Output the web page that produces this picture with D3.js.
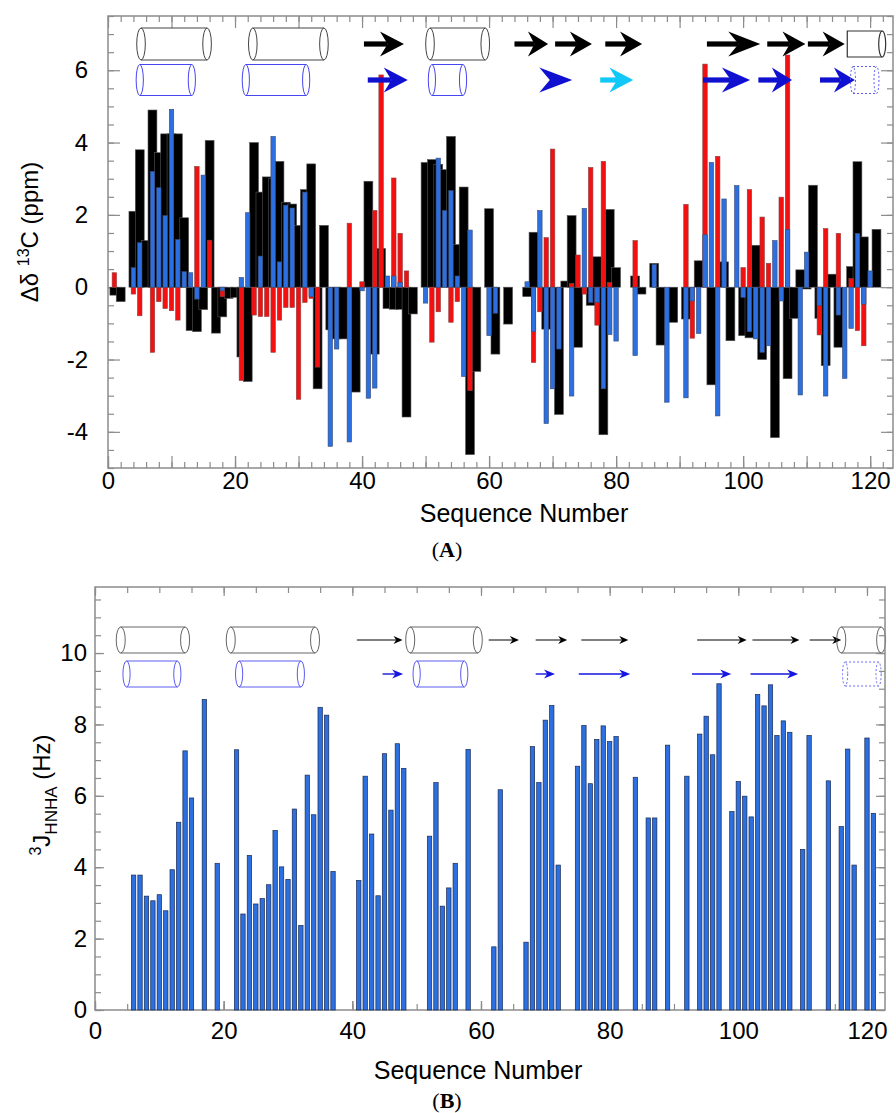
<!DOCTYPE html>
<html><head><meta charset="utf-8">
<script src="https://cdn.jsdelivr.net/npm/d3@7"></script>
<style>body{margin:0;background:#fff} svg{display:block;font-family:"Liberation Sans",Arial,sans-serif}</style>
</head><body>
<svg id="c" width="896" height="1113"></svg>
<script>
// ---------- Panel A data: [residue, Δδ13C (ppm)] ----------
const blackShifts = [[1,-0.22],[2,-0.40],[4,2.10],[5,3.80],[6,1.29],[7,4.90],[8,3.72],[9,4.24],[10,4.24],[11,4.24],[12,1.92],[13,-1.20],[14,-1.23],[15,-0.62],[16,4.06],[17,-1.27],[18,-0.82],[19,-0.31],[20,-0.28],[21,-1.93],[22,-2.61],[23,4.00],[24,2.63],[25,3.05],[26,3.00],[27,3.48],[28,2.35],[29,2.30],[30,1.71],[31,2.70],[32,3.41],[33,-2.81],[34,1.71],[35,-1.18],[36,-1.43],[37,-1.43],[39,-2.90],[41,2.93],[42,-1.85],[43,1.07],[44,-0.59],[45,-0.61],[46,-0.61],[47,-3.59],[48,-0.74],[50,3.45],[51,3.53],[52,3.40],[53,3.25],[54,4.17],[55,1.18],[56,2.77],[57,-4.63],[58,-2.33],[60,2.17],[61,-1.85],[63,-1.02],[66,-0.26],[67,1.52],[69,-1.16],[71,-3.52],[72,0.17],[73,1.98],[74,-1.66],[76,-0.50],[77,0.84],[78,-4.08],[79,2.15],[80,0.54],[83,0.31],[84,-0.19],[86,0.66],[87,-1.60],[89,-0.97],[91,-0.88],[93,0.73],[95,-2.70],[97,0.70],[98,-1.48],[100,-1.34],[101,-1.40],[102,1.16],[103,-2.00],[105,-4.16],[107,-2.53],[108,-0.86],[109,0.48],[110,-0.05],[111,2.82],[112,-0.86],[113,-2.17],[114,0.36],[115,-1.66],[117,0.57],[118,3.47],[119,1.39],[121,1.60]];
const blueShifts = [[4,0.54],[5,1.23],[7,3.20],[8,2.75],[9,1.98],[10,4.92],[11,1.32],[12,0.43],[13,0.40],[14,-0.33],[15,3.10],[18,-0.10],[21,0.27],[22,2.06],[24,0.86],[26,4.17],[27,0.70],[28,2.27],[29,2.19],[31,2.63],[32,-0.26],[35,-4.40],[36,-1.71],[38,-4.28],[40,-0.10],[41,-3.07],[42,-2.79],[44,0.31],[45,0.31],[46,0.13],[50,-0.44],[52,3.57],[53,2.12],[54,2.67],[55,0.31],[56,-2.47],[57,1.58],[60,-1.34],[61,-0.72],[66,0.15],[67,-1.23],[68,2.12],[69,-3.77],[70,-2.81],[71,-1.71],[73,-3.01],[75,2.18],[76,-0.42],[77,-0.42],[78,-2.81],[79,-1.31],[80,-1.49],[83,-1.89],[86,0.63],[88,-3.18],[91,-3.06],[92,-0.38],[93,-1.28],[94,1.45],[95,3.45],[96,-3.56],[97,2.44],[99,2.81],[100,-0.28],[101,-1.23],[102,-1.43],[103,-1.80],[104,-1.62],[105,1.29],[106,-0.38],[107,1.60],[109,-2.98],[110,0.97],[112,-0.51],[113,-3.01],[115,-0.77],[116,-2.52],[117,-1.14],[118,1.49],[119,-0.47],[120,0.45]];
const redShifts = [[1,0.40],[4,-0.19],[5,-0.79],[7,-1.80],[8,-0.40],[9,-0.59],[10,-0.65],[11,-0.91],[14,3.34],[16,1.30],[18,-0.26],[21,-2.58],[23,-0.77],[24,-0.81],[25,-0.81],[26,-1.80],[27,-0.91],[28,-0.56],[29,-0.56],[30,-3.10],[31,-0.42],[32,-0.31],[33,-2.21],[38,1.77],[40,0.15],[42,2.12],[43,5.87],[45,3.02],[46,1.49],[47,0.45],[51,-1.52],[52,-0.68],[54,-0.97],[55,-0.40],[57,-2.86],[67,-2.08],[68,-0.68],[69,1.37],[70,3.82],[73,0.10],[74,0.89],[75,-0.19],[76,3.31],[77,-1.05],[78,3.48],[79,0.13],[83,1.29],[91,2.29],[92,-1.41],[94,6.17],[96,3.62],[100,0.54],[101,2.70],[103,1.94],[104,0.66],[106,2.49],[107,6.42],[112,-1.32],[113,1.62],[115,1.49],[117,0.24],[118,-1.20],[119,-1.62]];

// ---------- Panel B data ----------
const jRes = [6,7,8,9,10,11,12,13,14,15,17,19,22,23,24,25,26,27,28,29,30,31,32,33,34,35,36,37,41,42,43,44,45,46,47,48,52,53,54,55,56,58,62,63,67,68,69,70,71,72,75,76,77,78,79,80,81,84,86,87,89,92,94,95,96,97,99,100,101,102,103,104,105,106,107,108,110,111,114,116,117,118,120,121];
const jVal = [3.78,3.78,3.19,3.06,3.23,2.78,3.93,5.26,7.26,5.94,8.70,4.11,7.29,2.69,4.33,2.97,3.12,3.51,5.03,4.01,3.66,5.63,2.37,6.58,5.47,8.48,8.26,3.88,3.63,6.55,4.93,3.20,7.18,5.60,7.46,6.77,4.87,6.37,2.91,3.42,4.11,7.30,1.77,6.17,1.90,7.38,6.37,8.12,8.53,4.06,6.83,7.97,6.34,7.58,7.96,7.52,7.66,6.52,5.38,5.38,7.42,6.55,7.73,8.23,7.15,9.14,5.56,6.40,5.99,5.41,8.84,8.52,9.11,7.69,8.10,7.78,4.50,7.69,6.42,5.14,7.31,4.06,7.62,5.51];

// ---------- Secondary structure (residue ranges) ----------
const ssA_top = [["cyl",5.2,15.6],["cyl",22.8,34.0],["arrow",40.3,46.6],["cyl",50.7,59.4],["arrow",64.0,69.3],["arrow",70.4,76.2],["arrow",78.3,84.1],["arrow",94.3,102.7],["arrow",103.8,109.8],["arrow",110.2,116.0],["box",116.4,121.9]];
const ssA_bot = [["cyl",5.0,13.2],["cyl",21.7,31.2],["arrow",40.9,47.2],["cyl",51.0,55.9],["head",67.9,73.1],["cyanarrow",77.5,82.7],["arrow",93.7,101.1],["arrow",102.4,107.7],["arrow",112.1,117.6],["dcyl",117.3,121.0]];
const ssB_top = [["cyl",4.0,14.0],["cyl",21.1,34.2],["arrow",40.7,47.8],["cyl",49.0,59.5],["arrow",61.2,65.9],["arrow",68.5,73.4],["arrow",75.6,82.9],["arrow",93.6,101.3],["arrow",102.2,109.5],["arrow",111.1,116.0],["cyl",116.0,122.2]];
const ssB_bot = [["cyl",4.9,12.8],["cyl",22.4,32.0],["arrow",44.7,47.9],["cyl",50.0,57.4],["arrow",68.5,71.5],["arrow",75.2,83.2],["arrow",92.8,98.9],["arrow",101.9,109.3],["dcyl",116.6,121.8]];

const xTicksLabel = [0,20,40,60,80,100,120];

const svg = d3.select("#c");
const BLUE = "#2b6fe0", RED = "#f41010", FRAME = "#8c8c8c";
const fmtTick = d => String(d);   // plain hyphen-minus as in the original

// ===== Panel A =====
const xA = d3.scaleLinear().domain([0,123.6]).range([108,893]);
const yA = d3.scaleLinear().domain([-5,7.5]).range([468,16]);
const gA = svg.append("g");

function drawBars(g, data, x, y, w, fill, stroke){
  g.selectAll(null).data(data).join("rect")
   .attr("x", d => x(d[0]) - (x(w)-x(0))/2)
   .attr("width", x(w)-x(0))
   .attr("y", d => y(Math.max(0,d[1])))
   .attr("height", d => Math.abs(y(d[1]) - y(0)))
   .attr("fill", fill).attr("stroke", stroke).attr("stroke-width", 0.6);
}

function frameAxes(g, x, y, xMinor, xMajor, yMinor, yMajor, xLab, xPad, yPad, minorLen, majorLen){
  const [x0,x1] = x.range(), [y0,y1] = y.range();
  const style = s => { s.select(".domain").remove(); s.selectAll("line").attr("stroke", FRAME).attr("stroke-width",1.2); s.selectAll("text").attr("font-size",24).attr("fill","#000").attr("font-family","Liberation Sans, Arial, sans-serif"); };
  g.append("g").attr("transform",`translate(0,${y0})`).call(d3.axisBottom(x).tickValues(xMinor).tickSize(-minorLen).tickFormat("")).call(style);
  g.append("g").attr("transform",`translate(0,${y0})`).call(d3.axisBottom(x).tickValues(xMajor).tickSize(-majorLen).tickFormat("")).call(style);
  g.append("g").attr("transform",`translate(0,${y0})`).call(d3.axisBottom(x).tickValues(xLab).tickSize(-majorLen).tickPadding(xPad).tickFormat(fmtTick)).call(style);
  g.append("g").attr("transform",`translate(0,${y1})`).call(d3.axisTop(x).tickValues(xMinor).tickSize(-minorLen).tickFormat("")).call(style);
  g.append("g").attr("transform",`translate(0,${y1})`).call(d3.axisTop(x).tickValues(xMajor).tickSize(-majorLen).tickFormat("")).call(style);
  g.append("g").attr("transform",`translate(${x0},0)`).call(d3.axisLeft(y).tickValues(yMinor).tickSize(-minorLen).tickFormat("")).call(style);
  g.append("g").attr("transform",`translate(${x0},0)`).call(d3.axisLeft(y).tickValues(yMajor).tickSize(-majorLen).tickPadding(yPad).tickFormat(fmtTick)).call(style);
  g.append("g").attr("transform",`translate(${x1},0)`).call(d3.axisRight(y).tickValues(yMinor).tickSize(-minorLen).tickFormat("")).call(style);
  g.append("g").attr("transform",`translate(${x1},0)`).call(d3.axisRight(y).tickValues(yMajor).tickSize(-majorLen).tickFormat("")).call(style);
  g.append("rect").attr("x",x0).attr("y",y1).attr("width",x1-x0).attr("height",y0-y1)
    .attr("fill","none").attr("stroke",FRAME).attr("stroke-width",1.5);
}
frameAxes(gA, xA, yA, d3.range(0,124,2), d3.range(0,124,10), d3.range(-5,7.6,0.5), [-4,-2,0,2,4,6], xTicksLabel, 4, 20, 6, 12);

const barsA = gA.append("g");
drawBars(barsA, blackShifts, xA, yA, 1.4, "#000", "#555");
drawBars(barsA, redShifts, xA, yA, 0.7, RED, "#8a4040");
drawBars(barsA, blueShifts, xA, yA, 0.7, BLUE, "#3a4a70");

// secondary structure drawing helpers
function cylinder(g, x1, x2, cy, h, rx, color, dashed, sw){
  const s = g.append("g").attr("fill","none").attr("stroke",color).attr("stroke-width",sw||1);
  if (dashed) s.attr("stroke-dasharray","2,2");
  s.append("path").attr("d",`M${x1},${cy-h/2}L${x2},${cy-h/2}M${x1},${cy+h/2}L${x2},${cy+h/2}`);
  s.append("ellipse").attr("cx",x1).attr("cy",cy).attr("rx",rx).attr("ry",h/2);
  s.append("ellipse").attr("cx",x2).attr("cy",cy).attr("rx",rx).attr("ry",h/2);
}
function boxEnd(g, x1, x2, cy, h, rx, color){
  const s = g.append("g").attr("fill","none").attr("stroke",color).attr("stroke-width",1.2);
  s.append("path").attr("d",`M${x2},${cy-h/2}L${x1},${cy-h/2}L${x1},${cy+h/2}L${x2},${cy+h/2}`);
  s.append("ellipse").attr("cx",x2).attr("cy",cy).attr("rx",rx).attr("ry",h/2);
}
function bigArrow(g, x1, x2, cy, color, headOnly, shortShaft){
  const len = x2 - x1;
  const L = headOnly ? len : (shortShaft ? len*0.72 : Math.min(33, 0.6*len));
  const H = 25, N = L*0.32, t = 2.6;
  if (!headOnly) g.append("rect").attr("x",x1).attr("y",cy-t).attr("width",Math.max(0,x2-L+N-x1)).attr("height",2*t).attr("fill",color);
  g.append("path").attr("d",`M${x2},${cy}L${x2-L},${cy-H/2}L${x2-L+N},${cy}L${x2-L},${cy+H/2}Z`).attr("fill",color);
}
function thinArrow(g, x1, x2, cy, color, sw, L, H){
  g.append("line").attr("x1",x1).attr("x2",x2-L*0.5).attr("y1",cy).attr("y2",cy).attr("stroke",color).attr("stroke-width",sw);
  g.append("path").attr("d",`M${x2},${cy}L${x2-L},${cy-H/2}L${x2-L*0.7},${cy}L${x2-L},${cy+H/2}Z`).attr("fill",color);
}

const ssG = svg.append("g");
ssA_top.forEach(([t,a,b]) => {
  const x1 = xA(a), x2 = xA(b), cy = 44;
  if (t==="cyl") cylinder(ssG, x1, x2, cy, 32, 4.3, "#444", false, 1);
  else if (t==="box") boxEnd(ssG, x1, x2, cy, 26, 3.5, "#333");
  else bigArrow(ssG, x1, x2, cy, "#000", false);
});
ssA_bot.forEach(([t,a,b]) => {
  const x1 = xA(a), x2 = xA(b), cy = 80;
  if (t==="cyl") cylinder(ssG, x1, x2, cy, 31, 3.6, "#4646f2", false, 1);
  else if (t==="dcyl") cylinder(ssG, x1, x2, cy, 27, 2.5, "#5a5af5", true, 1);
  else if (t==="head") bigArrow(ssG, x1, x2, cy, "#1010d0", true);
  else if (t==="cyanarrow") bigArrow(ssG, x1, x2, cy, "#12c8f8", false, true);
  else bigArrow(ssG, x1, x2, cy, "#1010d0", false);
});
barsA.raise();

// axis titles panel A
svg.append("text").attr("x",524).attr("y",522).attr("text-anchor","middle").attr("font-size",25).text("Sequence Number");
const tA = svg.append("text").attr("transform","translate(38,232) rotate(-90)").attr("text-anchor","middle").attr("font-size",24);
tA.append("tspan").text("Δδ ");
tA.append("tspan").attr("font-size",16).attr("dy",-9).text("13");
tA.append("tspan").attr("dy",9).text("C  (ppm)");
const lA = svg.append("text").attr("x",447).attr("y",557).attr("text-anchor","middle").attr("font-size",22).attr("font-family","Liberation Serif, Times New Roman, serif");
lA.append("tspan").text("(");
lA.append("tspan").attr("font-weight","bold").text("A");
lA.append("tspan").text(")");

// ===== Panel B =====
const xB = d3.scaleLinear().domain([0,122.8]).range([95,885]);
const yB = d3.scaleLinear().domain([0,11.85]).range([1010,587]);
const gB = svg.append("g");
frameAxes(gB, xB, yB, d3.range(0,123,5), d3.range(0,123,20), d3.range(0,11.9,0.5), [0,2,4,6,8,10], xTicksLabel, 12, 8, 6, 9);
const bw = 0.68;
gB.append("g").selectAll("rect").data(jRes.map((r,i)=>[r,jVal[i]])).join("rect")
  .attr("x", d => xB(d[0]) - (xB(bw)-xB(0))/2)
  .attr("width", xB(bw)-xB(0))
  .attr("y", d => yB(d[1]))
  .attr("height", d => yB(0)-yB(d[1]))
  .attr("fill", BLUE).attr("stroke","#1a2a50").attr("stroke-width",0.7);

ssB_top.forEach(([t,a,b]) => {
  const x1 = xB(a), x2 = xB(b), cy = 640;
  if (t==="cyl") cylinder(ssG, x1, x2, cy, 26, 4.5, "#555", false, 0.9);
  else thinArrow(ssG, x1, x2, cy, "#000", 1, 9, 8);
});
ssB_bot.forEach(([t,a,b]) => {
  const x1 = xB(a), x2 = xB(b), cy = 674;
  if (t==="cyl") cylinder(ssG, x1, x2, cy, 26, 3.6, "#4a4af0", false, 0.9);
  else if (t==="dcyl") cylinder(ssG, x1, x2, cy, 24, 2.6, "#6a6af5", true, 1);
  else thinArrow(ssG, x1, x2, cy, "#1515e0", 1.4, 11, 9);
});

svg.append("text").attr("x",478).attr("y",1079).attr("text-anchor","middle").attr("font-size",25).text("Sequence Number");
const tB = svg.append("text").attr("transform","translate(50,795) rotate(-90)").attr("text-anchor","middle").attr("font-size",24);
tB.append("tspan").attr("font-size",16).attr("dy",-9).text("3");
tB.append("tspan").attr("dy",9).text("J");
tB.append("tspan").attr("font-size",17).attr("dy",7).text("HNHA");
tB.append("tspan").attr("dy",-7).text(" (Hz)");
const lB = svg.append("text").attr("x",447).attr("y",1108).attr("text-anchor","middle").attr("font-size",22).attr("font-family","Liberation Serif, Times New Roman, serif");
lB.append("tspan").text("(");
lB.append("tspan").attr("font-weight","bold").text("B");
lB.append("tspan").text(")");
</script>
</body></html>
